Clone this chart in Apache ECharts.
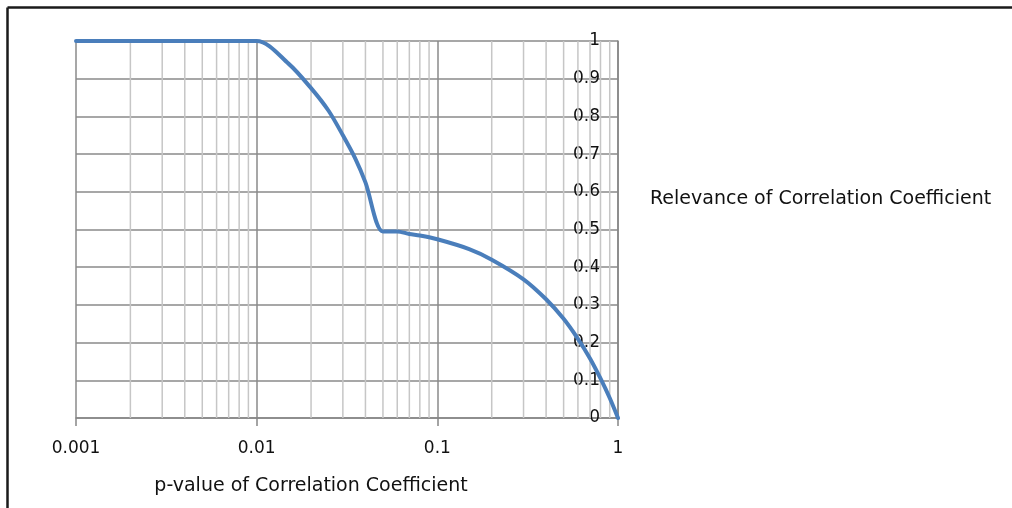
<!DOCTYPE html>
<html>
<head>
<meta charset="utf-8">
<script src="https://cdn.jsdelivr.net/npm/echarts@6/dist/echarts.min.js"></script>
<style>html,body{margin:0;padding:0;background:#fff;}#c{width:1012px;height:508px;}</style>
</head>
<body>
<div id="c"></div>
<script>
// Data
const seriesName = 'Relevance of Correlation Coefficient';
const xTitle = 'p-value of Correlation Coefficient';
const pValues = [0.001, 0.01, 0.015, 0.02, 0.025, 0.03, 0.035, 0.04, 0.05, 0.06, 0.07, 0.08, 0.1, 0.15, 0.2, 0.3, 0.4, 0.5, 0.6, 0.7, 0.8, 0.9, 1];
const relevance = [1, 1, 0.94, 0.875, 0.815, 0.75, 0.69, 0.625, 0.495, 0.495, 0.488, 0.484, 0.474, 0.448, 0.42, 0.368, 0.315, 0.263, 0.21, 0.158, 0.105, 0.053, 0];
const decades = [0.001, 0.01, 0.1];
const minorSteps = [2, 3, 4, 5, 6, 7, 8, 9];

const minorLines = [];
decades.forEach(d => minorSteps.forEach(m => minorLines.push([+(d * m).toPrecision(3)])));

const chart = echarts.init(document.getElementById('c'), null, { renderer: 'canvas' });
const font = 'DejaVu Sans';
chart.setOption({
  animation: false,
  backgroundColor: '#fff',
  grid: { left: 76, right: 394, top: 41, bottom: 90 },
  legend: {
    data: [seriesName],
    left: 640, top: 185,
    itemWidth: 0, itemHeight: 0,
    icon: 'rect',
    itemStyle: { opacity: 0 },
    lineStyle: { opacity: 0 },
    textStyle: { fontFamily: font, fontSize: 19, color: '#111' }
  },
  xAxis: {
    type: 'log', logBase: 10, min: 0.001, max: 1,
    name: xTitle, nameLocation: 'middle', nameGap: 59,
    nameTextStyle: { fontFamily: font, fontSize: 19, color: '#111', padding: [0, 72, 0, 0] },
    axisLine: { show: true, onZero: false, lineStyle: { color: '#868686', width: 1.5 } },
    axisTick: { show: true, length: 8, lineStyle: { color: '#868686', width: 1.5 } },
    axisLabel: { margin: 22, fontFamily: font, fontSize: 17, color: '#111' },
    splitLine: { show: true, lineStyle: { color: '#8a8a8a', width: 1.5 } },
    minorTick: { show: false }, minorSplitLine: { show: false }
  },
  yAxis: {
    type: 'value', min: 0, max: 1, interval: 0.1, position: 'right',
    axisLine: { show: true, lineStyle: { color: '#868686', width: 1.5 } },
    axisTick: { show: false },
    axisLabel: { inside: true, margin: 18, fontFamily: font, fontSize: 17, color: '#111' },
    splitLine: { show: true, lineStyle: { color: '#8a8a8a', width: 1.5 } }
  },
  series: [
    {
      name: 'minor', type: 'custom', z: 1, silent: true,
      data: minorLines,
      encode: { x: 0 },
      renderItem: function (params, api) {
        const v = api.value(0);
        const p1 = api.coord([v, 0]);
        const p2 = api.coord([v, 1]);
        return {
          type: 'line',
          shape: { x1: p1[0], y1: p1[1], x2: p2[0], y2: p2[1] },
          style: { stroke: '#c6c6c6', lineWidth: 1.5 }
        };
      }
    },
    {
      name: seriesName, type: 'line', z: 3,
      data: pValues.map((p, i) => [p, relevance[i]]),
      showSymbol: false, symbol: 'none', smooth: 0.3,
      lineStyle: { color: '#4a7ebb', width: 4, join: 'round', cap: 'round' },
      itemStyle: { color: '#4a7ebb' }
    }
  ],
  graphic: [
    { type: 'line', shape: { x1: 7.5, y1: 7.5, x2: 1012, y2: 7.5 }, style: { stroke: '#1a1a1a', lineWidth: 2.5 } },
    { type: 'line', shape: { x1: 7.5, y1: 7.5, x2: 7.5, y2: 508 }, style: { stroke: '#1a1a1a', lineWidth: 2.5 } }
  ]
});
</script>
</body>
</html>
